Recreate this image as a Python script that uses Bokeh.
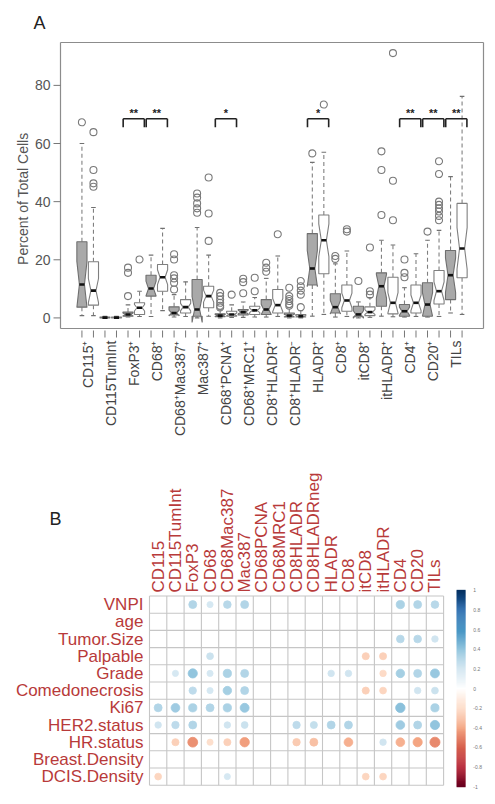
import math
import numpy as np
from bokeh.plotting import figure
from bokeh.layouts import column
from bokeh.models import Range1d
from bokeh.embed import file_html
from bokeh.resources import INLINE
from bokeh.core.properties import value

FONT = "Liberation Sans"

# ---------------- Panel A data ----------------
markers = ["CD115⁺", "CD115TumInt", "FoxP3⁺", "CD68⁺", "CD68⁺Mac387⁺", "Mac387⁺",
           "CD68⁺PCNA⁺", "CD68⁺MRC1⁺", "CD8⁺HLADR⁺", "CD8⁺HLADR⁻", "HLADR⁺", "CD8⁺",
           "itCD8⁺", "itHLADR⁺", "CD4⁺", "CD20⁺", "TILs"]
significance = ["", "", "**", "**", "", "", "*", "", "", "", "*", "", "", "", "**", "**", "**"]
y_ticks = [0, 20, 40, 60, 80]

# boxes alternate: grey group, white group for each marker
whisker_lo = [0.8, 0.8, 0.0, 0.0, 0.3, 0.5, 0.5, 2.5, 0.3, 0.5, 0.0, 0.6, 0.0, 0.2,
              0.2, 0.3, 0.3, 0.5, 0.0, 0.0, 0.6, 1.2, 0.3, 0.5, 0.0, 0.2, 0.6, 0.4,
              0.3, 0.5, 0.3, 0.5, 1.7, 1.2]
q1 = [3.7, 4.4, 0.0, 0.0, 0.6, 1.2, 7.5, 9.2, 1.0, 1.7, 0.6, 3.5, 0.4, 0.6,
      1.0, 1.2, 1.2, 1.7, 0.3, 0.3, 11.3, 15.2, 1.7, 2.3, 0.4, 0.8, 4.0, 1.4,
      0.6, 1.7, 0.6, 4.8, 6.3, 13.8]
median = [11.5, 9.4, 0.1, 0.1, 1.2, 3.5, 10.1, 14.0, 1.7, 3.7, 2.9, 7.5, 0.8, 1.2,
          2.0, 2.6, 2.9, 4.4, 0.8, 0.6, 17.0, 26.7, 3.7, 6.0, 1.2, 2.0, 10.9, 5.2,
          2.3, 5.2, 4.6, 9.2, 14.7, 23.9]
q3 = [26.2, 19.3, 0.3, 0.3, 2.0, 5.2, 14.7, 18.4, 3.8, 6.3, 13.2, 10.9, 1.4, 2.3,
      2.9, 4.0, 6.3, 9.8, 1.7, 1.2, 29.0, 35.4, 8.3, 11.3, 4.0, 3.8, 15.5, 14.0,
      4.6, 11.3, 12.1, 16.3, 23.2, 39.4]
whisker_hi = [60.0, 38.0, 0.6, 0.6, 4.5, 9.2, 21.6, 30.8, 8.0, 12.4, 31.1, 21.6, 2.8, 4.5,
              5.5, 7.0, 13.6, 21.3, 3.5, 2.5, 53.5, 57.0, 18.6, 23.0, 5.5, 7.0, 26.7, 25.1,
              10.4, 22.1, 26.7, 30.1, 48.6, 76.2]
outliers = [[67.3], [45.1, 46.3, 50.9, 63.9], [], [], [7.5, 15.5, 17.3], [20.1], [], [],
            [9.8, 12.1, 13.6, 14.7, 20.1, 21.9], [], [36.2, 37.7, 39.4, 41.4, 42.8],
            [26.5, 35.9, 48.3], [3.6, 4.2, 5.2, 6.3, 7.5, 8.6], [8.0], [8.5, 12.3, 13.5],
            [9.2, 13.8], [15.9, 17.3, 19.0], [28.8], [4.2, 4.8, 5.8, 6.5, 7.5, 10.4],
            [3.7, 8.0, 9.4, 10.9, 12.7], [56.6], [73.4], [20.3, 21.3], [29.7, 30.5], [12.7],
            [8.0, 9.2, 24.2], [35.4, 50.9, 57.3], [33.6, 47.2, 91.1], [14.0, 15.5, 20.1], [],
            [29.7], [33.6, 35.1, 36.6, 37.7, 38.9, 40.0, 49.5, 53.9], [], []]
group_n = [20, 32]  # samples per group (grey, white) used for notches

# ---------------- Panel B data ----------------
clin_vars = ["VNPI", "age", "Tumor.Size", "Palpable", "Grade", "Comedonecrosis", "Ki67",
             "HER2.status", "HR.status", "Breast.Density", "DCIS.Density"]
cell_types = ["CD115", "CD115TumInt", "FoxP3", "CD68", "CD68Mac387", "Mac387", "CD68PCNA",
              "CD68MRC1", "CD8HLADR", "CD8HLADRneg", "HLADR", "CD8", "itCD8", "itHLADR",
              "CD4", "CD20", "TILs"]
r_vnpi = [0, 0, 0.30, 0.18, 0.28, 0.30, 0, 0, 0, 0, 0, 0, 0, 0, 0.32, 0.30, 0.28]
r_age = [0, 0, 0, 0, 0, 0, 0, 0, 0, 0, 0, 0, 0, 0, 0, 0, 0]
r_tumor_size = [0, 0, 0, 0, 0, 0, 0, 0, 0, 0, 0, 0, 0, 0, 0.28, 0.28, 0.20]
r_palpable = [0, 0, 0, 0.22, 0, 0, 0, 0, 0, 0, 0, 0, -0.24, -0.24, 0, 0, 0]
r_grade = [0, 0.18, 0.40, 0.18, 0.32, 0.30, 0, 0, 0, 0, 0.20, 0.20, 0, -0.20, 0.34, 0.30, 0.38]
r_comedo = [0, 0, 0.26, 0.18, 0.34, 0.30, 0, 0, 0, 0, 0, 0, -0.24, -0.22, 0, 0.20, 0.22]
r_ki67 = [0.30, 0.36, 0.32, 0.30, 0.32, 0.38, 0, 0, 0, 0, 0, 0, 0, 0, 0.42, 0, 0.32]
r_her2 = [0.20, 0.26, 0.30, 0, 0.20, 0.22, 0, 0, 0.26, 0.24, 0.30, 0.30, 0, 0, 0.36, 0.30, 0.40]
r_hr = [0, -0.24, -0.46, -0.18, -0.24, -0.42, 0, 0, -0.26, -0.30, 0, -0.36, 0, 0.20, -0.36, -0.40, -0.48]
r_breast = [0, 0, 0, 0, 0, 0, 0, 0, 0, 0, 0, 0, 0, 0, 0, 0, 0]
r_dcis = [-0.22, 0, 0, 0, 0.18, 0, 0, 0, 0, 0, 0, 0, -0.22, -0.22, 0, 0, 0]
corr_rows = [r_vnpi, r_age, r_tumor_size, r_palpable, r_grade, r_comedo, r_ki67,
             r_her2, r_hr, r_breast, r_dcis]
colorbar_ticks = [1, 0.8, 0.6, 0.4, 0.2, 0, -0.2, -0.4, -0.6, -0.8, -1]
rdbu = ["#67001F", "#B2182B", "#D6604D", "#F4A582", "#FDDBC7", "#FFFFFF",
        "#D1E5F0", "#92C5DE", "#4393C3", "#2166AC", "#053061"]

W = 495
H_TOTAL = 804

# =============== Panel A (frame, axes and labels drawn as glyphs) ===============
XL, XR = -0.86, 35.86          # plot-region x limits (R style)
YB, YT = -3.64, 94.75          # plot-region y limits
FL, FR, FT, FB = 60, 483, 42, 328   # plot-region edges on the page (px)
PXU = (FR - FL) / (XR - XL)    # pixels per x unit
PYU = (FB - FT) / (YT - YB)    # pixels per y unit
HA = 438
pA = figure(width=W, height=HA,
            x_range=Range1d(XL - FL / PXU, XR + (W - FR) / PXU),
            y_range=Range1d(YB - (HA - FB) / PYU, YT + FT / PYU),
            output_backend="svg", toolbar_location=None,
            min_border=0, min_border_left=0, min_border_right=0,
            min_border_top=0, min_border_bottom=0)
pA.axis.visible = False
pA.xgrid.visible = False
pA.ygrid.visible = False
pA.outline_line_color = None

# frame
pA.segment(x0=[XL, XL, XL, XR], y0=[YB, YT, YB, YB], x1=[XR, XR, XL, XR], y1=[YB, YT, YT, YT],
           line_color="#8c8c8c", line_width=1.2)

# y axis
pA.segment(x0=[XL] * len(y_ticks), y0=y_ticks, x1=[XL - 7 / PXU] * len(y_ticks), y1=y_ticks,
           line_color="#777777", line_width=1)
pA.text(x=[XL - 10 / PXU] * len(y_ticks), y=y_ticks, text=[str(t) for t in y_ticks],
        text_font=value(FONT), text_font_size="14px", text_color="#555555",
        text_align="right", text_baseline="middle")
pA.text(x=[XL - 38 / PXU], y=[41], text=["Percent of Total Cells"], angle=math.pi / 2,
        text_font=value(FONT), text_font_size="14px", text_color="#555555",
        text_align="center", text_baseline="middle")

n_box = len(median)
box_x = list(range(1, n_box + 1))
# x axis ticks
pA.segment(x0=box_x, y0=[YB - 2 / PYU] * n_box, x1=box_x, y1=[YB - 9 / PYU] * n_box,
           line_color="#777777", line_width=1)
pA.text(x=[2 * k + 1.5 for k in range(len(markers))], y=[YB - 12 / PYU] * len(markers),
        text=markers, angle=math.pi / 2, text_font=value(FONT), text_font_size="14px",
        text_color="#444444", text_align="right", text_baseline="middle")
pA.text(x=[XL - 21 / PXU], y=[YT + 20 / PYU], text=["A"], text_font=value(FONT),
        text_font_size="18px", text_color="#222222", text_align="center",
        text_baseline="middle")

w = 0.44
xs, ys, fills, lines = [], [], [], []
for i in range(n_box):
    x = box_x[i]
    n = group_n[i % 2]
    h = 1.58 * (q3[i] - q1[i]) / math.sqrt(n)
    lo, hi = median[i] - h, median[i] + h
    xs.append([x - w, x + w, x + w, x + w / 2, x + w, x + w, x - w, x - w, x - w / 2, x - w])
    ys.append([q1[i], q1[i], lo, median[i], hi, q3[i], q3[i], hi, median[i], lo])
    fills.append("#a9a9a9" if i % 2 == 0 else "#ffffff")
    lines.append("#6f6f6f" if i % 2 == 0 else "#7f7f7f")

# whiskers
pA.segment(x0=box_x, y0=q3, x1=box_x, y1=whisker_hi, line_color="#808080",
           line_width=1.1, line_dash="4 3")
pA.segment(x0=box_x, y0=q1, x1=box_x, y1=whisker_lo, line_color="#808080",
           line_width=1.1, line_dash="4 3")
st = 0.2
pA.segment(x0=[x - st for x in box_x], y0=whisker_hi, x1=[x + st for x in box_x],
           y1=whisker_hi, line_color="#707070", line_width=1.1)
pA.segment(x0=[x - st for x in box_x], y0=whisker_lo, x1=[x + st for x in box_x],
           y1=whisker_lo, line_color="#707070", line_width=1.1)

pA.patches(xs=xs, ys=ys, fill_color=fills, line_color=lines, line_width=1.1)
pA.segment(x0=[x - w / 2 for x in box_x], y0=median, x1=[x + w / 2 for x in box_x],
           y1=median, line_color="#111111", line_width=2.6)

ox, oy = [], []
for i in range(n_box):
    for v in outliers[i]:
        ox.append(box_x[i])
        oy.append(v)
pA.scatter(x=ox, y=oy, marker="circle", size=7, fill_color=None,
           line_color="#7a7a7a", line_width=1.1)

# significance brackets
bracket_y, leg_y, star_y = 68.5, 65.6, 70.6
bx0, bx1, lx, sx, stext = [], [], [], [], []
for k, s in enumerate(significance):
    if not s:
        continue
    a, b = 2 * k + 1 - 0.42, 2 * k + 2 + 0.42
    bx0.append(a)
    bx1.append(b)
    lx += [a, b]
    sx.append(2 * k + 1.5)
    stext.append(s)
pA.segment(x0=bx0, y0=[bracket_y] * len(bx0), x1=bx1, y1=[bracket_y] * len(bx0),
           line_color="#222222", line_width=1.6)
pA.segment(x0=lx, y0=[bracket_y] * len(lx), x1=lx, y1=[leg_y] * len(lx),
           line_color="#222222", line_width=1.6)
pA.text(x=sx, y=[star_y] * len(sx), text=stext, text_font=value(FONT),
        text_font_size="11px", text_font_style="bold", text_color="#222222",
        text_align="center", text_baseline="middle")

# =============== Panel B ===============
nr, nc = len(clin_vars), len(cell_types)
HB = H_TOTAL - HA
CW, CH = 17.3, 17.2            # cell size in px
GL = 149                       # grid left edge on the page (px)
grid_top_px = 595.5 - HA       # grid top, from top of panel B canvas
pB = figure(width=W, height=HB,
            x_range=Range1d(-GL / CW, (W - GL) / CW),
            y_range=Range1d(nr - (HB - grid_top_px) / CH, nr + grid_top_px / CH),
            output_backend="svg", toolbar_location=None,
            min_border=0, min_border_left=0, min_border_right=0, min_border_top=0,
            min_border_bottom=0)
pB.axis.visible = False
pB.xgrid.visible = False
pB.ygrid.visible = False
pB.outline_line_color = None

# grid
pB.segment(x0=list(range(nc + 1)), y0=[0] * (nc + 1), x1=list(range(nc + 1)), y1=[nr] * (nc + 1),
           line_color="#c6c6c6", line_width=1.1)
pB.segment(x0=[0] * (nr + 1), y0=list(range(nr + 1)), x1=[nc] * (nr + 1), y1=list(range(nr + 1)),
           line_color="#c6c6c6", line_width=1.1)


def rgb(hx):
    return np.array([int(hx[i:i + 2], 16) for i in (1, 3, 5)], dtype=float)


pal = np.array([rgb(c) for c in rdbu])


def corr_color(r):
    t = (r + 1) / 2 * (len(rdbu) - 1)
    i0 = int(min(max(math.floor(t), 0), len(rdbu) - 2))
    f = t - i0
    c = pal[i0] * (1 - f) + pal[i0 + 1] * f
    return "#%02x%02x%02x" % tuple(int(round(v)) for v in c)


cx, cy, cr, cc = [], [], [], []
for j, row in enumerate(corr_rows):
    for i, r in enumerate(row):
        if r == 0:
            continue
        cx.append(i + 0.5)
        cy.append(nr - j - 0.5)
        cr.append(0.42 * math.sqrt(abs(r)))
        cc.append(corr_color(r))
pB.circle(x=cx, y=cy, radius=cr, fill_color=cc, line_color=cc, line_width=0.8)

pB.text(x=[i + 0.5 for i in range(nc)], y=[nr + 0.2] * nc, text=cell_types, angle=math.pi / 2,
        text_font=value(FONT), text_font_size="17px", text_color="#b83a3a",
        text_align="left", text_baseline="middle")
pB.text(x=[-0.35] * nr, y=[nr - j - 0.5 for j in range(nr)], text=clin_vars,
        text_font=value(FONT), text_font_size="17px", text_color="#b83a3a",
        text_align="right", text_baseline="middle")

# colour bar
cb_left, cb_right, cb_bottom, cb_top = 17.75, 18.27, -0.08, 11.32
levels = np.linspace(-1, 1, 201)
step = (cb_top - cb_bottom) / (len(levels) - 1)
cb_y = [cb_bottom + (lv + 1) / 2 * (cb_top - cb_bottom) for lv in levels]
pB.quad(left=cb_left, right=cb_right, bottom=[y - step / 2 - 0.01 for y in cb_y],
        top=[y + step / 2 + 0.01 for y in cb_y], fill_color=[corr_color(lv) for lv in levels],
        line_color=None)
pB.text(x=[cb_right + 0.45] * len(colorbar_ticks),
        y=[cb_bottom + (t + 1) / 2 * (cb_top - cb_bottom) for t in colorbar_ticks],
        text=[("%g" % t) for t in colorbar_ticks], text_font=value(FONT), text_font_size="5px",
        text_color="#777777", text_align="left", text_baseline="middle")
pB.text(x=[(55 - GL) / CW], y=[nr + (grid_top_px - (518 - HA)) / CH], text=["B"],
        text_font=value(FONT), text_font_size="18px", text_color="#222222",
        text_align="center", text_baseline="middle")

layout = column(pA, pB, spacing=0)
open("out.html", "w").write(file_html(layout, INLINE))
